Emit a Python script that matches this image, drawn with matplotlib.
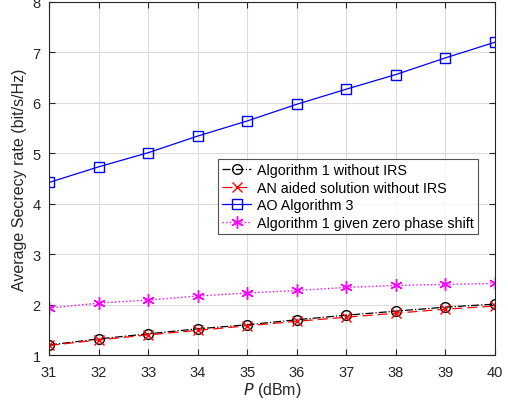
import numpy as np
import matplotlib.pyplot as plt

plt.rcParams['font.family'] = ['Liberation Sans', 'DejaVu Sans']

# data
p_dbm = [31, 32, 33, 34, 35, 36, 37, 38, 39, 40]
alg1_no_irs = [1.20, 1.32, 1.42, 1.52, 1.60, 1.70, 1.79, 1.87, 1.95, 2.01]
an_no_irs = [1.19, 1.30, 1.40, 1.49, 1.58, 1.67, 1.75, 1.83, 1.91, 1.97]
ao_alg3 = [4.42, 4.73, 5.01, 5.34, 5.64, 5.97, 6.27, 6.56, 6.89, 7.20]
alg1_zero = [1.93, 2.03, 2.09, 2.17, 2.23, 2.28, 2.34, 2.38, 2.40, 2.42]

fig = plt.figure(figsize=(5.08, 4.06), dpi=100)
ax = fig.add_axes([0.0965, 0.123, 0.878, 0.870])

ax.plot(p_dbm, alg1_no_irs, color='black', linestyle='-.', marker='o', mfc='none',
        ms=7, lw=0.9, label='Algorithm 1 without IRS')
ax.plot(p_dbm, an_no_irs, color='red', linestyle=(0, (8, 4)), marker='x',
        ms=7, lw=0.9, label='AN aided solution without IRS')
ax.plot(p_dbm, ao_alg3, color='blue', linestyle='-', marker='s', mfc='none',
        ms=6.5, lw=0.9, label='AO Algorithm 3')
ax.plot(p_dbm, alg1_zero, color='magenta', linestyle=':', marker=(6, 2, 0),
        ms=9, lw=1.0, label='Algorithm 1 given zero phase shift')

ax.set_xlim(31, 40)
ax.set_ylim(1, 8)
ax.set_xticks(range(31, 41))
ax.set_yticks(range(1, 9))
ax.grid(True, color='#dcdcdc', lw=0.8)
ax.set_axisbelow(True)
ax.tick_params(direction='in', top=True, right=True, labelsize=10.5,
               colors='#262626', length=4)
ax.tick_params(axis='x', pad=7)
ax.tick_params(axis='y', pad=6)
for s in ax.spines.values():
    s.set_color('#262626')
    s.set_linewidth(0.8)

ax.set_xlabel('$P$ (dBm)', fontsize=11.5, color='#262626', labelpad=1)
ax.set_ylabel('Average Secrecy rate (bit/s/Hz)', fontsize=11.5, color='#262626', labelpad=4)

leg = ax.legend(loc='upper left', bbox_to_anchor=(0.379, 0.556), fontsize=10.3,
                frameon=True, fancybox=False, edgecolor='#262626',
                borderpad=0.3, labelspacing=0.25, handlelength=2.0,
                handletextpad=0.4, borderaxespad=0)
leg.get_frame().set_linewidth(0.8)

fig.savefig('out.png', dpi=100)
